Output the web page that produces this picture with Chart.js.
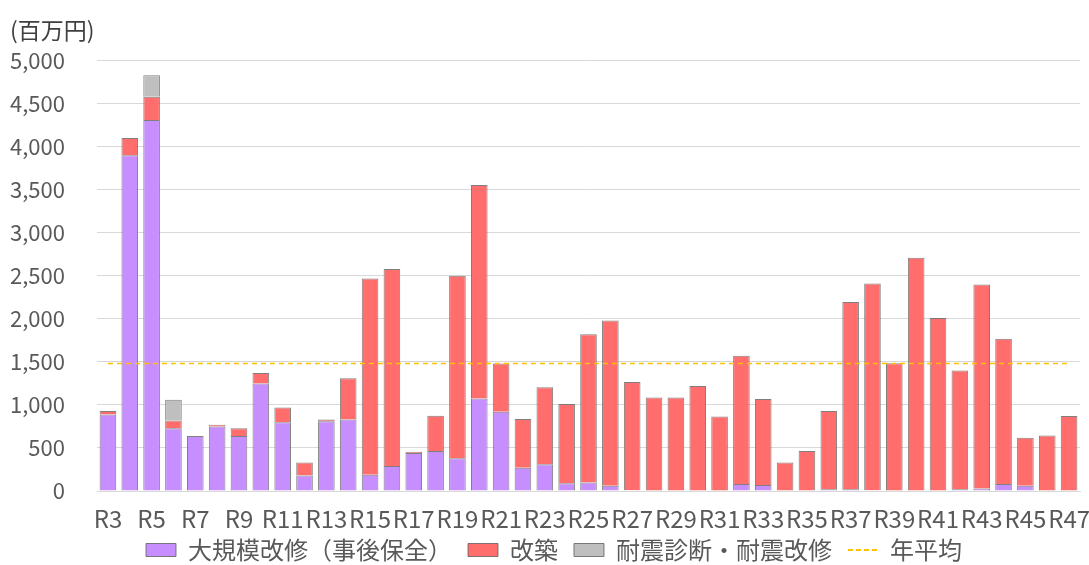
<!DOCTYPE html>
<html>
<head>
<meta charset="utf-8">
<script src="https://cdn.jsdelivr.net/npm/chart.js@4"></script>
<style>
  html, body { margin: 0; padding: 0; background: #fff; }
  #wrap { width: 1089px; height: 565px; }
</style>
</head>
<body>
<div id="wrap"><canvas id="costChart"></canvas></div>
<script>
var labels = ['R3','R4','R5','R6','R7','R8','R9','R10','R11','R12','R13','R14','R15','R16','R17',
  'R18','R19','R20','R21','R22','R23','R24','R25','R26','R27','R28','R29','R30','R31','R32',
  'R33','R34','R35','R36','R37','R38','R39','R40','R41','R42','R43','R44','R45','R46','R47'];

// 大規模改修（事後保全）
var largeRepair = [890, 3900, 4310, 730, 640, 750, 640, 1250, 800, 180, 810, 830, 190, 290, 440,
  465, 380, 1075, 920, 270, 310, 90, 100, 60, 10, 0, 0, 0, 0, 80,
  70, 0, 0, 20, 20, 10, 0, 0, 0, 20, 30, 80, 60, 0, 0];
// 改築
var rebuild = [40, 200, 270, 90, 0, 20, 90, 120, 170, 150, 20, 480, 2280, 2290, 15,
  410, 2120, 2480, 560, 565, 895, 920, 1720, 1920, 1255, 1085, 1085, 1220, 865, 1490,
  1000, 330, 465, 910, 2175, 2400, 1485, 2710, 2010, 1380, 2370, 1690, 560, 645, 870];
// 耐震診断・耐震改修
var seismic = [0, 0, 250, 240, 0, 0, 0, 0, 0, 0, 0, 0, 0, 0, 0,
  0, 0, 0, 0, 0, 0, 0, 0, 0, 0, 0, 0, 0, 0, 0,
  0, 0, 0, 0, 0, 0, 0, 0, 0, 0, 0, 0, 0, 0, 0];
// 年平均
var avgValue = 1480;
var yTicks = [0, 500, 1000, 1500, 2000, 2500, 3000, 3500, 4000, 4500, 5000];

var fontFamily = '"Noto Sans CJK JP", "Noto Sans", sans-serif';
var textColor = '#595959';

// legend sits a little higher / further right than Chart.js puts it
var legendNudge = {
    id: 'legendNudge',
    afterLayout: function (chart) {
        var lg = chart.legend;
        lg.top -= 11; lg.bottom -= 11;
        lg.left += 9; lg.right += 9;
    }
};

document.addEventListener('DOMContentLoaded', function () {
    var ctx = document.getElementById('costChart').getContext('2d');
    var barBorder = 'rgba(95, 95, 95, 0.8)';

    new Chart(ctx, {
        type: 'bar',
        data: {
            labels: labels,
            datasets: [{
                label: '大規模改修（事後保全）',
                data: largeRepair,
                backgroundColor: '#C78EFF',
                borderColor: barBorder,
                borderWidth: 1,
                order: 1
            }, {
                label: '改築',
                data: rebuild,
                backgroundColor: '#FF6D6D',
                borderColor: barBorder,
                borderWidth: 1,
                order: 1
            }, {
                label: '耐震診断・耐震改修',
                data: seismic,
                backgroundColor: '#BFBFBF',
                borderColor: barBorder,
                borderWidth: 1,
                order: 1
            }, {
                type: 'line',
                label: '年平均',
                data: labels.map(function () { return avgValue; }),
                stack: 'avg',
                borderColor: '#FFC000',
                backgroundColor: '#FFC000',
                borderWidth: 1.5,
                borderDash: [5, 4],
                pointRadius: 0,
                order: 0
            }]
        },
        plugins: [legendNudge],
        options: {
            responsive: true,
            maintainAspectRatio: false,
            animation: false,
            layout: { padding: { left: 10, right: 9, top: 16, bottom: -18 } },
            datasets: {
                bar: { categoryPercentage: 1, barPercentage: 0.76 }
            },
            scales: {
                x: {
                    stacked: true,
                    grid: { display: false, drawTicks: false },
                    border: { color: '#D9D9D9' },
                    afterFit: function (scale) {
                        scale.paddingLeft = 0;
                        scale.paddingRight = 0;
                        scale.height = 42;
                    },
                    ticks: {
                        autoSkip: false,
                        maxRotation: 0,
                        color: textColor,
                        font: { family: fontFamily, size: 24 },
                        padding: 13,
                        callback: function (v, i) { return i % 2 === 0 ? labels[i] : ''; }
                    }
                },
                y: {
                    stacked: true,
                    min: 0,
                    max: 5000,
                    afterBuildTicks: function (axis) {
                        axis.ticks = yTicks.map(function (v) { return { value: v }; });
                    },
                    afterFit: function (scale) {
                        scale.width = 87;
                    },
                    grid: { color: '#D9D9D9', drawTicks: false },
                    border: { display: false },
                    ticks: {
                        color: textColor,
                        font: { family: fontFamily, size: 22 },
                        padding: 32,
                        callback: function (v) { return v.toLocaleString('en-US'); }
                    }
                }
            },
            plugins: {
                title: {
                    display: true,
                    text: '(百万円)',
                    align: 'start',
                    color: '#404040',
                    font: { family: fontFamily, size: 23, weight: 'normal' },
                    padding: { top: 0, bottom: 17 }
                },
                tooltip: { enabled: false },
                legend: {
                    position: 'bottom',
                    labels: {
                        color: textColor,
                        font: { family: fontFamily, size: 24 },
                        boxWidth: 30,
                        boxHeight: 13,
                        padding: 16,
                        usePointStyle: true,
                        pointStyleWidth: 30,
                        sort: function (a, b) { return a.datasetIndex - b.datasetIndex; },
                        generateLabels: function (chart) {
                            var items = Chart.defaults.plugins.legend.labels.generateLabels(chart);
                            items.forEach(function (it) {
                                if (it.datasetIndex === 3) {
                                    it.pointStyle = 'line';
                                    it.lineDash = [5, 3];
                                    it.lineWidth = 2;
                                    it.strokeStyle = '#FFC000';
                                } else {
                                    it.pointStyle = 'rect';
                                    it.lineWidth = 1;
                                }
                            });
                            return items;
                        }
                    }
                }
            }
        }
    });
});
</script>
</body>
</html>
